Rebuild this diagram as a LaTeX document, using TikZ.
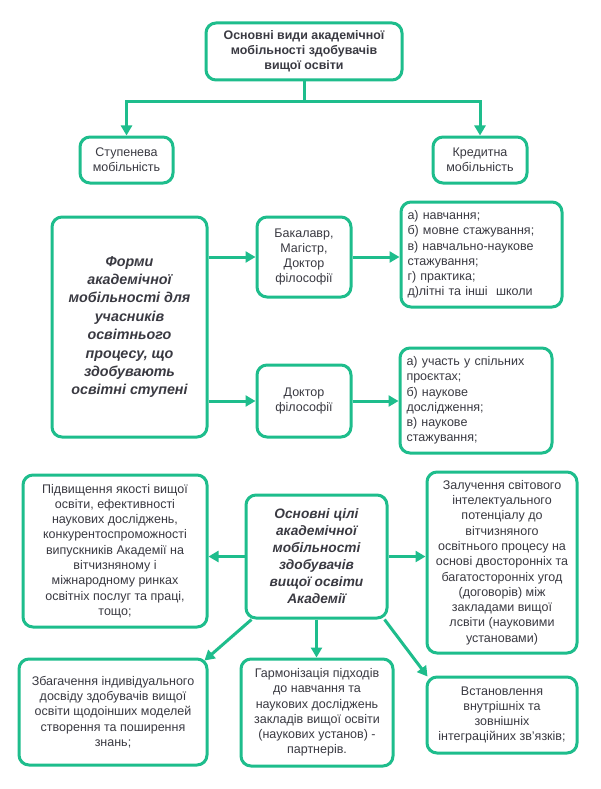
\documentclass[tikz,border=0pt]{standalone}
\usepackage{fontspec}
\setmainfont{Liberation Sans}
\usetikzlibrary{arrows.meta,calc}
\definecolor{gr}{RGB}{30,189,140}
\definecolor{tx}{RGB}{58,58,66}
\begin{document}
\begin{tikzpicture}[x=1pt,y=-1pt,
  box/.style={draw=gr, line width=3pt, rounded corners=10pt, text=tx, align=center,
    inner sep=0pt, font=\fontsize{12.5}{15.3}\selectfont},
  topbox/.style={box, font=\bfseries\fontsize{12.4}{15}\selectfont},
  bigbox/.style={box, font=\bfseries\itshape\fontsize{14.3}{18.4}\selectfont},
  midbox/.style={box, font=\bfseries\itshape\fontsize{13.7}{17}\selectfont},
  listbox/.style={box, align=left},
  conn/.style={draw=gr, line width=3pt},
  arr/.style={conn, -{Triangle[length=10pt,width=11pt]}}]
\useasboundingbox (0,0) rectangle (600,789);
\fill[white] (0,0) rectangle (600,789);

\node[topbox, minimum width=196pt, minimum height=57pt] (top) at (304,51.5)
  {Основні види академічної\\мобільності здобувачів\\вищої освіти};
\node[box, minimum width=93pt, minimum height=46pt] (step) at (126.5,160)
  {Ступенева\\мобільність};
\node[box, minimum width=94pt, minimum height=46pt] (kred) at (480,160)
  {Кредитна\\мобільність};

\node[bigbox, minimum width=155pt, minimum height=220pt] (forms) at (129.5,327)
  {Форми\\академічної\\мобільності для\\учасників\\освітнього\\процесу, що\\здобувають\\освітні ступені};
\node[box, minimum width=94pt, minimum height=80pt] (bak) at (304,257)
  {Бакалавр,\\Магістр,\\Доктор\\філософії};
\node[box, minimum width=94pt, minimum height=72pt] (dok) at (304,401)
  {Доктор\\філософії};
\node[listbox, minimum width=161pt, minimum height=105pt, text width=148pt] (list1) at (481.5,254.5)
  {а) навчання;\\б) мовне стажування;\\в) навчально-наукове\\стажування;\\г) практика;\\д)літні та інші\ \ школи};
\node[listbox, minimum width=152pt, minimum height=105pt, text width=139pt] (list2) at (476,400.5)
  {а) участь у спільних\\проєктах;\\б) наукове\\дослідження;\\в) наукове\\стажування;};

\node[box, minimum width=184pt, minimum height=152pt] (g1) at (115,551)
  {Підвищення якості вищої\\освіти, ефективності\\наукових досліджень,\\конкурентоспроможності\\випускників Академії на\\вітчизняному і\\міжнародному ринках\\освітніх послуг та праці,\\тощо;};
\node[midbox, minimum width=141pt, minimum height=123pt] (goal) at (316.5,556.5)
  {Основні цілі\\академічної\\мобільності\\здобувачів\\вищої освіти\\Академії};
\node[box, minimum width=150pt, minimum height=181pt] (g2) at (502,562.5)
  {Залучення світового\\інтелектуального\\потенціалу до\\вітчизняного\\освітнього процесу на\\основі двосторонніх та\\багатосторонніх угод\\(договорів) між\\закладами вищої\\лсвіти (науковими\\установами)};
\node[box, minimum width=188pt, minimum height=106pt] (bA) at (113,712)
  {Збагачення індивідуального\\досвіду здобувачів вищої\\освіти щодоінших моделей\\створення та поширення\\знань;};
\node[box, minimum width=152pt, minimum height=107pt] (bB) at (317,712.5)
  {Гармонізація підходів\\до навчання та\\наукових досліджень\\закладів вищої освіти\\(наукових установ) -\\партнерів.};
\node[box, minimum width=150pt, minimum height=76pt] (bC) at (502,715)
  {Встановлення\\внутрішніх та\\зовнішніх\\інтеграційних зв'язків;};

% connectors
\coordinate (j) at (304,102);
\draw[conn] (top.south) -- (j);
\draw[arr] (j) -| (step.north);
\draw[arr] (j) -| (kred.north);

\draw[arr] (forms.east |- bak.west) -- (bak.west);
\draw[arr] (forms.east |- dok.west) -- (dok.west);
\draw[arr] (bak.east) -- (bak.east -| list1.west);
\draw[arr] (dok.east) -- (dok.east -| list2.west);

\draw[arr] (goal.west) -- (goal.west -| g1.east);
\draw[arr] (goal.east) -- (goal.east -| g2.west);
\draw[arr] ($(goal.south west)+(7,0)$) -- ($(bA.north east)+(-4,3)$);
\draw[arr] (goal.south) -- (goal.south |- bB.north);
\draw[arr] ($(goal.south east)+(-4,0)$) -- ($(bC.north west)+(2,1)$);
\end{tikzpicture}
\end{document}
